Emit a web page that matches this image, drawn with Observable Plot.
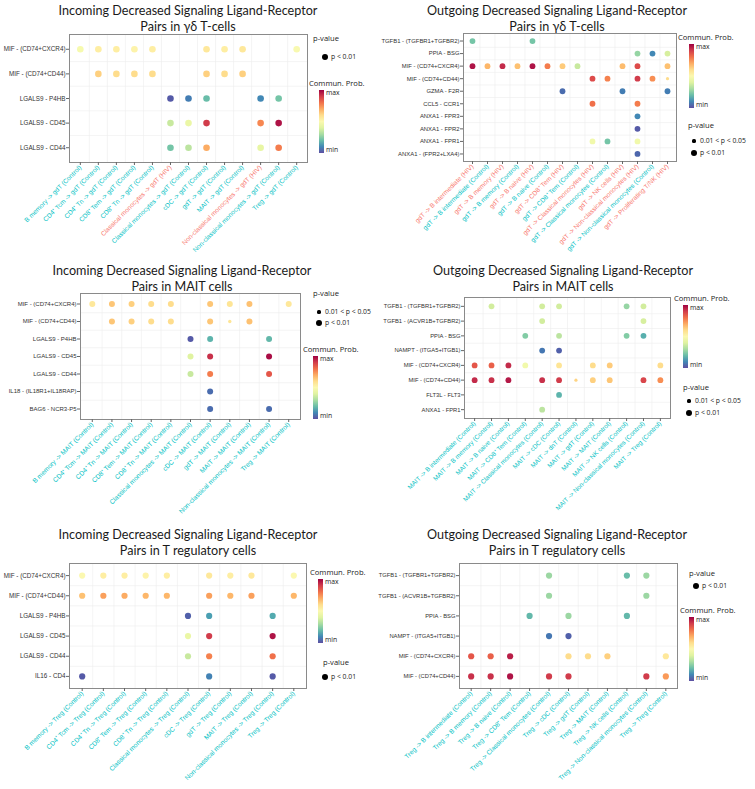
<!DOCTYPE html>
<html><head><meta charset="utf-8">
<script src="https://cdn.jsdelivr.net/npm/d3@7"></script>
<script src="https://cdn.jsdelivr.net/npm/@observablehq/plot@0.6"></script>
<style>
body{margin:0;background:#fff;}
#root{position:relative;width:755px;height:789px;overflow:hidden;font-family:"Liberation Sans",Arial,sans-serif;}
.title{position:absolute;text-align:center;font-family:Lato,"Open Sans",sans-serif;font-size:12.6px;line-height:16px;color:#1a1a1a;white-space:nowrap;transform:translateX(-50%);}
.lt{position:absolute;white-space:nowrap;color:#1a1a1a;font-family:"Open Sans",sans-serif;}
.bar{position:absolute;width:5px;}
.ld{position:absolute;border-radius:50%;background:#000;}
svg{position:absolute;}
</style></head>
<body><div id="root"></div>
<script>
const HIV = "#F8766D", CTRL = "#00BFC4";

// ---------- Panel 1: Incoming, gdT ----------
const p1Title = ["Incoming Decreased Signaling Ligand-Receptor", "Pairs in γδ T-cells"];
const p1Rows = ["MIF - (CD74+CXCR4)", "MIF - (CD74+CD44)", "LGALS9 - P4HB", "LGALS9 - CD45", "LGALS9 - CD44"];
const p1Cols = ["B memory -> gdT (Control)", "CD4⁺ Tcm -> gdT (Control)", "CD4⁺ Tn -> gdT (Control)", "CD8⁺ Tem -> gdT (Control)", "CD8⁺ Tn -> gdT (Control)", "Classical monocytes -> gdT (HIV)", "Classical monocytes -> gdT (Control)", "cDC -> gdT (Control)", "gdT -> gdT (Control)", "MAIT -> gdT (Control)", "Non-classical monocytes -> gdT (HIV)", "Non-classical monocytes -> gdT (Control)", "Treg -> gdT (Control)"];
// [row, column, commun. prob (0=min,1=max), significance (1: p<0.01, 0: 0.01<p<0.05)]
const p1Dots = [
  [1,1,.47,1],[1,2,.55,1],[1,3,.55,1],[1,4,.53,1],[1,5,.55,1],[1,8,.57,1],[1,9,.55,1],[1,10,.57,1],[1,13,.48,1],
  [2,2,.63,1],[2,3,.6,1],[2,4,.6,1],[2,5,.6,1],[2,8,.63,1],[2,9,.6,1],[2,10,.63,1],
  [3,6,.02,1],[3,7,.08,1],[3,8,.2,1],[3,11,.1,1],[3,12,.22,1],
  [4,6,.35,1],[4,7,.43,1],[4,8,.9,1],[4,11,.76,1],[4,12,.97,1],
  [5,6,.22,1],[5,7,.33,1],[5,8,.7,1],[5,11,.42,1],[5,12,.78,1]
];

// ---------- Panel 2: Outgoing, gdT ----------
const p2Title = ["Outgoing Decreased Signaling Ligand-Receptor", "Pairs in γδ T-cells"];
const p2Rows = ["TGFB1 - (TGFBR1+TGFBR2)", "PPIA - BSG", "MIF - (CD74+CXCR4)", "MIF - (CD74+CD44)", "GZMA - F2R", "CCL5 - CCR1", "ANXA1 - FPR3", "ANXA1 - FPR2", "ANXA1 - FPR1", "ANXA1 - (FPR2+LXA4)"];
const p2Cols = ["gdT -> B intermediate (HIV)", "gdT -> B intermediate (Control)", "gdT -> B memory (HIV)", "gdT -> B memory (Control)", "gdT -> B naive (HIV)", "gdT -> B naive (Control)", "gdT -> CD8⁺ Tem (HIV)", "gdT -> CD8⁺ Tem (Control)", "gdT -> Classical monocytes (HIV)", "gdT -> Classical monocytes (Control)", "gdT -> NK cells (HIV)", "gdT -> Non-classical monocytes (HIV)", "gdT -> Non-classical monocytes (Control)", "gdT -> Proliferating T/NK (HIV)"];
const p2Dots = [
  [1,1,.22,1],[1,5,.22,1],
  [2,12,.27,1],[2,13,.1,1],[2,14,.38,1],
  [3,1,.97,1],[3,2,.68,1],[3,3,.93,1],[3,4,.66,1],[3,5,.97,1],[3,6,.78,1],[3,7,.64,1],[3,8,.35,1],[3,11,.67,1],[3,12,.87,1],[3,14,.66,1],
  [4,9,.87,1],[4,10,.77,1],[4,12,.9,1],[4,13,.75,1],[4,14,.6,0],
  [5,7,.05,1],[5,11,.08,1],[5,14,.08,1],
  [6,9,.8,1],[6,12,.78,1],
  [7,12,.1,1],
  [8,12,.02,1],
  [9,9,.45,1],[9,10,.22,1],[9,12,.45,1],
  [10,12,.04,1]
];

// ---------- Panel 3: Incoming, MAIT ----------
const p3Title = ["Incoming Decreased Signaling Ligand-Receptor", "Pairs in MAIT cells"];
const p3Rows = ["MIF - (CD74+CXCR4)", "MIF - (CD74+CD44)", "LGALS9 - P4HB", "LGALS9 - CD45", "LGALS9 - CD44", "IL18 - (IL18R1+IL18RAP)", "BAG6 - NCR3-P5"];
const p3Cols = ["B memory -> MAIT (Control)", "CD4⁺ Tcm -> MAIT (Control)", "CD4⁺ Tn -> MAIT (Control)", "CD8⁺ Tem -> MAIT (Control)", "CD8⁺ Tn -> MAIT (Control)", "Classical monocytes -> MAIT (Control)", "cDC -> MAIT (Control)", "gdT -> MAIT (Control)", "MAIT -> MAIT (Control)", "Non-classical monocytes -> MAIT (Control)", "Treg -> MAIT (Control)"];
const p3Dots = [
  [1,1,.57,1],[1,2,.65,1],[1,3,.63,1],[1,4,.6,1],[1,5,.6,1],[1,7,.65,1],[1,8,.58,1],[1,9,.66,1],[1,11,.57,1],
  [2,2,.65,1],[2,3,.63,1],[2,4,.6,1],[2,5,.6,1],[2,7,.65,1],[2,8,.58,0],[2,9,.66,1],
  [3,6,.02,1],[3,7,.18,1],[3,10,.19,1],
  [4,6,.4,1],[4,7,.92,1],[4,10,.98,1],
  [5,6,.35,1],[5,7,.78,1],[5,10,.85,1],
  [6,7,.05,1],
  [7,7,.05,1],[7,10,.05,1]
];

// ---------- Panel 4: Outgoing, MAIT ----------
const p4Title = ["Outgoing Decreased Signaling Ligand-Receptor", "Pairs in MAIT cells"];
const p4Rows = ["TGFB1 - (TGFBR1+TGFBR2)", "TGFB1 - (ACVR1B+TGFBR2)", "PPIA - BSG", "NAMPT - (ITGA5+ITGB1)", "MIF - (CD74+CXCR4)", "MIF - (CD74+CD44)", "FLT3L - FLT3", "ANXA1 - FPR1"];
const p4Cols = ["MAIT -> B intermediate (Control)", "MAIT -> B memory (Control)", "MAIT -> B naive (Control)", "MAIT -> CD8⁺ Tem (Control)", "MAIT -> Classical monocytes (Control)", "MAIT -> cDC (Control)", "MAIT -> dnT (Control)", "MAIT -> gdT (Control)", "MAIT -> MAIT (Control)", "MAIT -> NK cells (Control)", "MAIT -> Non-classical monocytes (Control)", "MAIT -> Treg (Control)"];
const p4Dots = [
  [1,2,.37,1],[1,5,.37,1],[1,6,.37,1],[1,10,.27,1],[1,11,.37,1],
  [2,5,.37,1],[2,11,.38,1],
  [3,4,.24,1],[3,6,.33,1],[3,10,.24,1],[3,11,.17,1],
  [4,5,.07,1],[4,6,.03,1],
  [5,1,.85,1],[5,2,.83,1],[5,3,.93,1],[5,4,.45,1],[5,6,.58,1],[5,8,.6,1],[5,9,.64,1],[5,12,.6,1],
  [6,1,.93,1],[6,2,.92,1],[6,3,.96,1],[6,5,.92,1],[6,6,.9,1],[6,7,.62,0],[6,8,.63,1],[6,9,.65,1],[6,11,.88,1],[6,12,.75,1],
  [7,6,.18,1],
  [8,5,.33,1]
];

// ---------- Panel 5: Incoming, Treg ----------
const p5Title = ["Incoming Decreased Signaling Ligand-Receptor", "Pairs in T regulatory cells"];
const p5Rows = ["MIF - (CD74+CXCR4)", "MIF - (CD74+CD44)", "LGALS9 - P4HB", "LGALS9 - CD45", "LGALS9 - CD44", "IL16 - CD4"];
const p5Cols = ["B memory -> Treg (Control)", "CD4⁺ Tcm -> Treg (Control)", "CD4⁺ Tn -> Treg (Control)", "CD8⁺ Tem -> Treg (Control)", "CD8⁺ Tn -> Treg (Control)", "Classical monocytes -> Treg (Control)", "cDC -> Treg (Control)", "gdT -> Treg (Control)", "MAIT -> Treg (Control)", "Non-classical monocytes -> Treg (Control)", "Treg -> Treg (Control)"];
const p5Dots = [
  [1,1,.5,1],[1,2,.55,1],[1,3,.55,1],[1,4,.53,1],[1,5,.55,1],[1,7,.57,1],[1,8,.55,1],[1,9,.57,1],[1,11,.5,1],
  [2,1,.66,1],[2,2,.72,1],[2,3,.7,1],[2,4,.68,1],[2,5,.68,1],[2,7,.72,1],[2,8,.68,1],[2,9,.72,1],[2,11,.68,1],
  [3,6,.03,1],[3,7,.14,1],[3,10,.16,1],
  [4,6,.43,1],[4,7,.9,1],[4,10,.97,1],
  [5,6,.35,1],[5,7,.77,1],[5,10,.8,1],
  [6,1,.02,1],[6,7,.09,1],[6,10,.02,1]
];

// ---------- Panel 6: Outgoing, Treg ----------
const p6Title = ["Outgoing Decreased Signaling Ligand-Receptor", "Pairs in T regulatory cells"];
const p6Rows = ["TGFB1 - (TGFBR1+TGFBR2)", "TGFB1 - (ACVR1B+TGFBR2)", "PPIA - BSG", "NAMPT - (ITGA5+ITGB1)", "MIF - (CD74+CXCR4)", "MIF - (CD74+CD44)"];
const p6Cols = ["Treg -> B intermediate (Control)", "Treg -> B memory (Control)", "Treg -> B naive (Control)", "Treg -> CD8⁺ Tem (Control)", "Treg -> Classical monocytes (Control)", "Treg -> cDC (Control)", "Treg -> gdT (Control)", "Treg -> MAIT (Control)", "Treg -> NK cells (Control)", "Treg -> Non-classical monocytes (Control)", "Treg -> Treg (Control)"];
const p6Dots = [
  [1,5,.28,1],[1,9,.2,1],[1,10,.28,1],
  [2,5,.28,1],[2,10,.28,1],
  [3,4,.19,1],[3,6,.28,1],[3,9,.19,1],
  [4,5,.07,1],[4,6,.03,1],
  [5,1,.85,1],[5,2,.83,1],[5,3,.95,1],[5,6,.6,1],[5,7,.6,1],[5,8,.63,1],[5,11,.57,1],
  [6,1,.92,1],[6,2,.92,1],[6,3,.97,1],[6,5,.9,1],[6,6,.9,1],[6,10,.9,1],[6,11,.73,1]
];

const pLabels = ["0.01 < p < 0.05", "p < 0.01"];

const root = document.getElementById("root");

function el(cls, css, text) {
  const d = document.createElement("div");
  d.className = cls;
  Object.assign(d.style, css);
  if (text != null) d.textContent = text;
  root.appendChild(d);
  return d;
}

function panel(title, rows, cols, dots, L) {
  const n = cols.length, m = rows.length;
  const x0 = L.x0, y0 = L.t - 6, x1 = L.r + 6, y1 = L.y1;
  const idx = d3.range(1, n + 1);
  const hiv = idx.filter(i => cols[i - 1].includes("(HIV)"));
  const ctl = idx.filter(i => !cols[i - 1].includes("(HIV)"));
  const ax = {tickFormat: i => cols[i - 1], tickRotate: -45, fontSize: L.fx, tickSize: 3, tickPadding: 1, label: null, stroke: "#666"};
  const marks = [
    Plot.ruleX(d3.range(1.5, n), {stroke: "#ececec", strokeWidth: 0.6}),
    Plot.ruleY(d3.range(1.5, m), {stroke: "#ececec", strokeWidth: 0.6}),
    Plot.frame({stroke: "#8a8a8a"}),
    Plot.axisY({ticks: d3.range(1, m + 1), tickFormat: i => rows[i - 1], fontSize: L.fy, tickSize: 3, tickPadding: 1, label: null, fill: "#333", stroke: "#666"}),
    Plot.dot(dots, {x: d => d[1], y: d => d[0], fill: d => d[2], r: d => d[3]})
  ];
  if (hiv.length) marks.push(Plot.axisX({...ax, ticks: hiv, fill: HIV}));
  if (ctl.length) marks.push(Plot.axisX({...ax, ticks: ctl, fill: CTRL}));
  const svg = Plot.plot({
    width: x1 - x0, height: y1 - y0,
    marginLeft: L.l - x0, marginRight: 6, marginTop: 6, marginBottom: y1 - L.b,
    x: {type: "linear", domain: [0.4, n + 0.6]},
    y: {type: "linear", domain: [0.4, m + 0.6], reverse: true},
    color: {type: "linear", scheme: "spectral", reverse: true, domain: [0, 1]},
    r: {type: "linear", domain: [0, 1], range: [L.rs, L.rb]},
    style: {fontFamily: "'Liberation Sans', Arial, sans-serif", background: "transparent", overflow: "visible"},
    marks
  });
  svg.style.left = x0 + "px";
  svg.style.top = y0 + "px";
  root.appendChild(svg);

  // title
  const t = el("title", {left: L.tx + "px", top: L.ty + "px"});
  t.innerHTML = title.join("<br>");

  // legends
  const sigs = [...new Set(dots.map(d => d[3]))].sort();
  const P = L.pv;
  el("lt", {left: P.x + "px", top: (P.y - 6) + "px", fontSize: "7.6px", lineHeight: "12px"}, "p-value");
  sigs.forEach((s, k) => {
    const cy = P.y + P.dy0 + k * P.dy;
    const rr = s ? 3 : 1.6;
    el("ld", {left: (P.dx - rr) + "px", top: (cy - rr) + "px", width: 2 * rr + "px", height: 2 * rr + "px"});
    el("lt", {left: (P.dx + 6) + "px", top: (cy - 5) + "px", fontSize: "6.8px", lineHeight: "10px"}, pLabels[s]);
  });
  const C = L.cb;
  el("lt", {left: C.x + "px", top: (C.y - 6) + "px", fontSize: "7.6px", lineHeight: "12px"}, "Commun. Prob.");
  const stops = d3.range(0, 1.001, 0.1).map(u => d3.interpolateSpectral(1 - u) + " " + (u * 100) + "%").join(",");
  el("bar", {left: C.bx + "px", top: C.t + "px", height: (C.b - C.t) + "px", background: `linear-gradient(to top, ${stops})`});
  el("lt", {left: (C.bx + 7) + "px", top: (C.t + 3 - 5) + "px", fontSize: "6.8px", lineHeight: "10px"}, "max");
  el("lt", {left: (C.bx + 7) + "px", top: (C.b - 3 - 5) + "px", fontSize: "6.8px", lineHeight: "10px"}, "min");
}

panel(p1Title, p1Rows, p1Cols, p1Dots, {x0: 0, l: 69, t: 34, r: 307, b: 162, y1: 258, rb: 3.3, rs: 1.8, tx: 188, ty: 3, fy: 6.3, fx: 6.5,
  pv: {x: 313, y: 38, dx: 325, dy0: 19, dy: 12}, cb: {x: 309, y: 83, bx: 319, t: 90, b: 153}});
panel(p2Title, p2Rows, p2Cols, p2Dots, {x0: 375, l: 463, t: 33, r: 676, b: 161, y1: 258, rb: 2.9, rs: 1.6, tx: 557, ty: 3, fy: 5.9, fx: 6.5,
  pv: {x: 688, y: 125, dx: 694, dy0: 16, dy: 12}, cb: {x: 678, y: 37, bx: 689, t: 44, b: 108}});
panel(p3Title, p3Rows, p3Cols, p3Dots, {x0: 0, l: 80, t: 293, r: 300, b: 419, y1: 518, rb: 3.0, rs: 1.7, tx: 182, ty: 263, fy: 6.0, fx: 6.6,
  pv: {x: 313, y: 293, dx: 319, dy0: 19, dy: 11}, cb: {x: 303, y: 349, bx: 313, t: 356, b: 419}});
panel(p4Title, p4Rows, p4Cols, p4Dots, {x0: 375, l: 464, t: 297, r: 670, b: 418, y1: 518, rb: 2.9, rs: 1.6, tx: 563, ty: 263, fy: 5.8, fx: 6.45,
  pv: {x: 683, y: 387, dx: 689, dy0: 14, dy: 12}, cb: {x: 674, y: 298, bx: 683, t: 305, b: 368}});
panel(p5Title, p5Rows, p5Cols, p5Dots, {x0: 0, l: 69, t: 563, r: 306, b: 688, y1: 789, rb: 3.1, rs: 1.7, tx: 188, ty: 527, fy: 6.3, fx: 6.55,
  pv: {x: 323, y: 662, dx: 325, dy0: 15, dy: 12}, cb: {x: 310, y: 572, bx: 318, t: 579, b: 643}});
panel(p6Title, p6Rows, p6Cols, p6Dots, {x0: 375, l: 459, t: 563, r: 677, b: 688, y1: 789, rb: 3.1, rs: 1.7, tx: 557, ty: 527, fy: 5.8, fx: 6.55,
  pv: {x: 689, y: 573, dx: 696, dy0: 13, dy: 12}, cb: {x: 680, y: 610, bx: 689, t: 617, b: 681}});
</script>
</body></html>
